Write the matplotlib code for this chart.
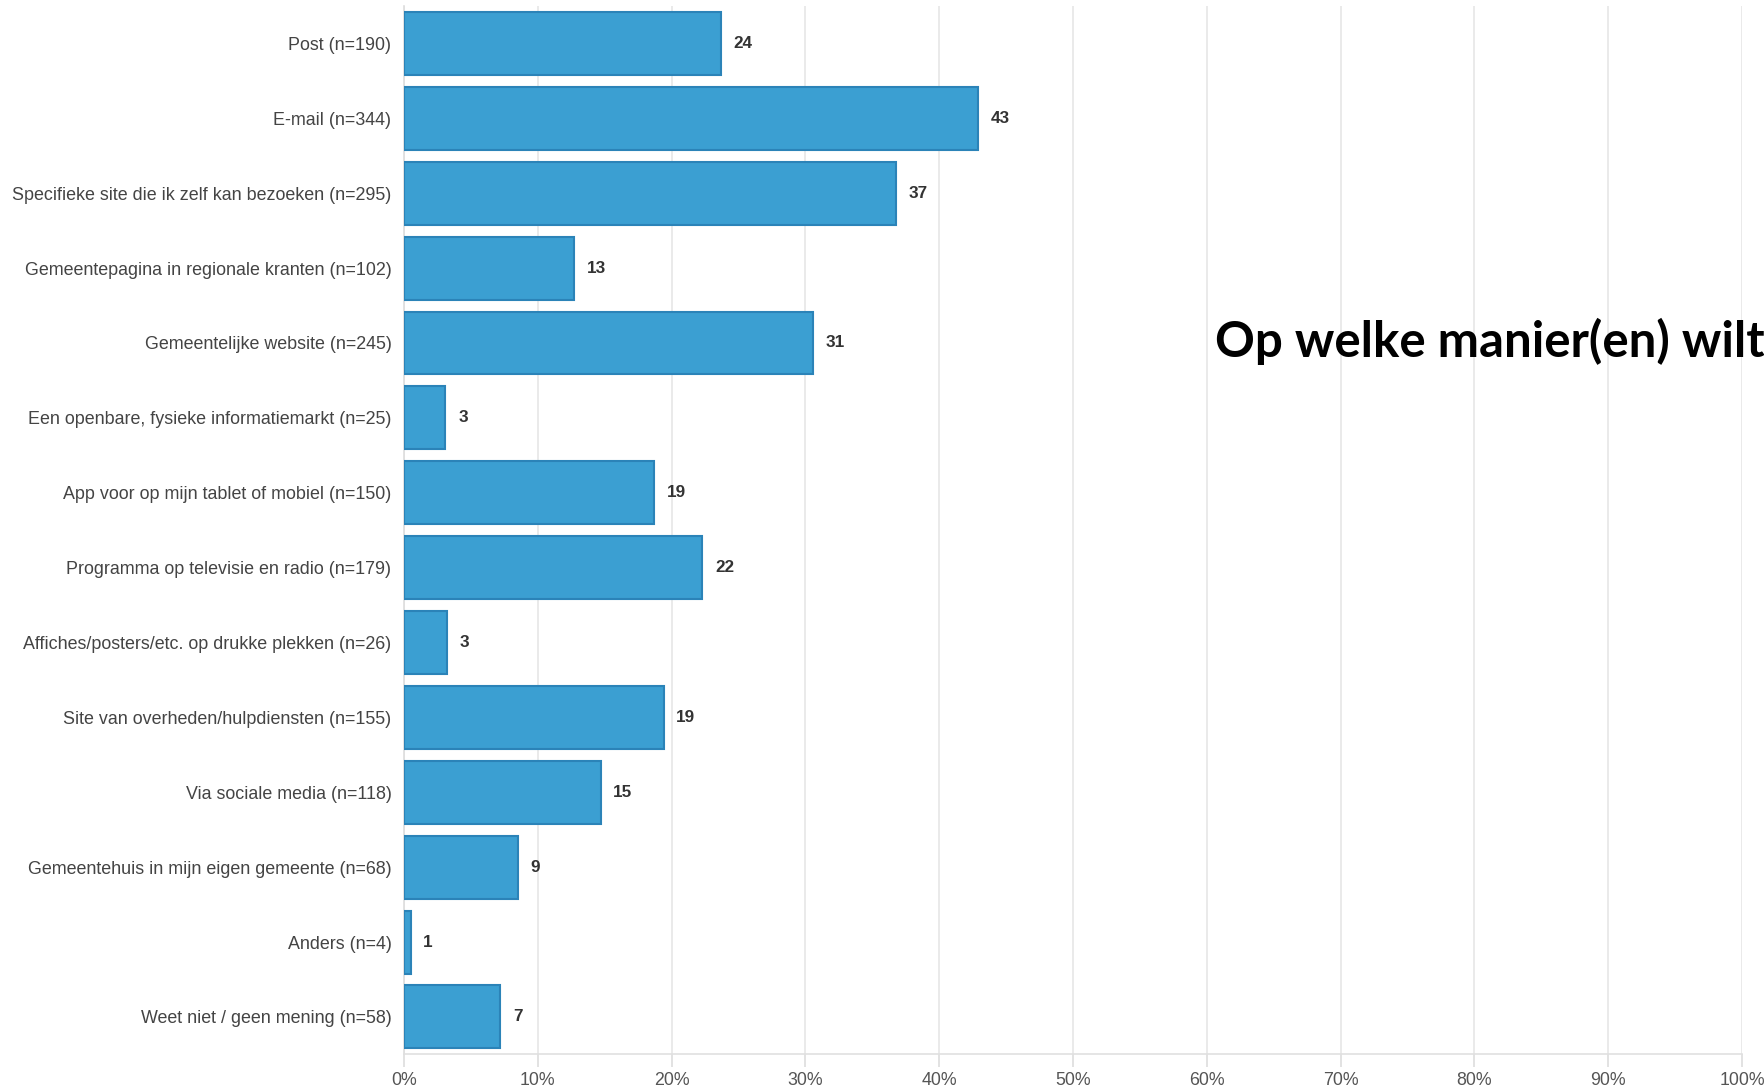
import matplotlib
matplotlib.use("Agg")
import matplotlib.pyplot as plt
from matplotlib.ticker import FixedLocator, FuncFormatter

categories = [
    "Post (n=190)",
    "E-mail (n=344)",
    "Specifieke site die ik zelf kan bezoeken (n=295)",
    "Gemeentepagina in regionale kranten (n=102)",
    "Gemeentelijke website (n=245)",
    "Een openbare, fysieke informatiemarkt (n=25)",
    "App voor op mijn tablet of mobiel (n=150)",
    "Programma op televisie en radio (n=179)",
    "Affiches/posters/etc. op drukke plekken (n=26)",
    "Site van overheden/hulpdiensten (n=155)",
    "Via sociale media (n=118)",
    "Gemeentehuis in mijn eigen gemeente (n=68)",
    "Anders (n=4)",
    "Weet niet / geen mening (n=58)",
]
values = [23.7, 42.9, 36.8, 12.7, 30.6, 3.1, 18.7, 22.3, 3.2, 19.4, 14.7, 8.5, 0.5, 7.2]
value_labels = [24, 43, 37, 13, 31, 3, 19, 22, 3, 19, 15, 9, 1, 7]
xticks = [0, 10, 20, 30, 40, 50, 60, 70, 80, 90, 100]
title_text = "Op welke manier(en) wilt"

plt.rcParams['font.family'] = ['Liberation Sans', 'DejaVu Sans']

fig = plt.figure(figsize=(17.64, 10.87), dpi=100)
ax = fig.add_axes([0.229, 0.030, 0.7585, 0.9645])

pos = list(range(len(categories)))
ax.barh(pos, values, height=0.84, color="#3b9fd2", edgecolor="#2b83b8", linewidth=1.5, zorder=3)
for p, v, lab in zip(pos, values, value_labels):
    ax.text(v + 0.95, p, str(lab), va="center", ha="left", fontsize=12.3,
            fontweight="bold", color="#333333", zorder=4)

ax.set_ylim(len(categories) - 0.5, -0.5)
ax.set_xlim(0, 100)
ax.set_yticks(pos)
ax.set_yticklabels(categories, fontsize=12.9, color="#444444")
ax.xaxis.set_major_locator(FixedLocator(xticks))
ax.xaxis.set_major_formatter(FuncFormatter(lambda x, _: f"{int(x)}%"))
ax.tick_params(axis="x", labelsize=12.8, labelcolor="#555555", length=9, width=1.2,
               color="#dddddd", pad=4)
ax.tick_params(axis="y", length=0, pad=9)
ax.grid(axis="x", color="#e6e6e6", linewidth=1.2, zorder=0)
for s in ["top", "right"]:
    ax.spines[s].set_visible(False)
ax.spines["bottom"].set_color("#e0e0e0")
ax.spines["bottom"].set_linewidth(1.2)
ax.spines["left"].set_color("#dddddd")
ax.spines["left"].set_linewidth(1.2)

fig.text(0.689, 0.672, title_text, fontsize=35.5, fontweight="bold", color="#000000",
         family=["Lato", "DejaVu Sans"], ha="left", va="baseline")

fig.savefig("out.png", dpi=100)
